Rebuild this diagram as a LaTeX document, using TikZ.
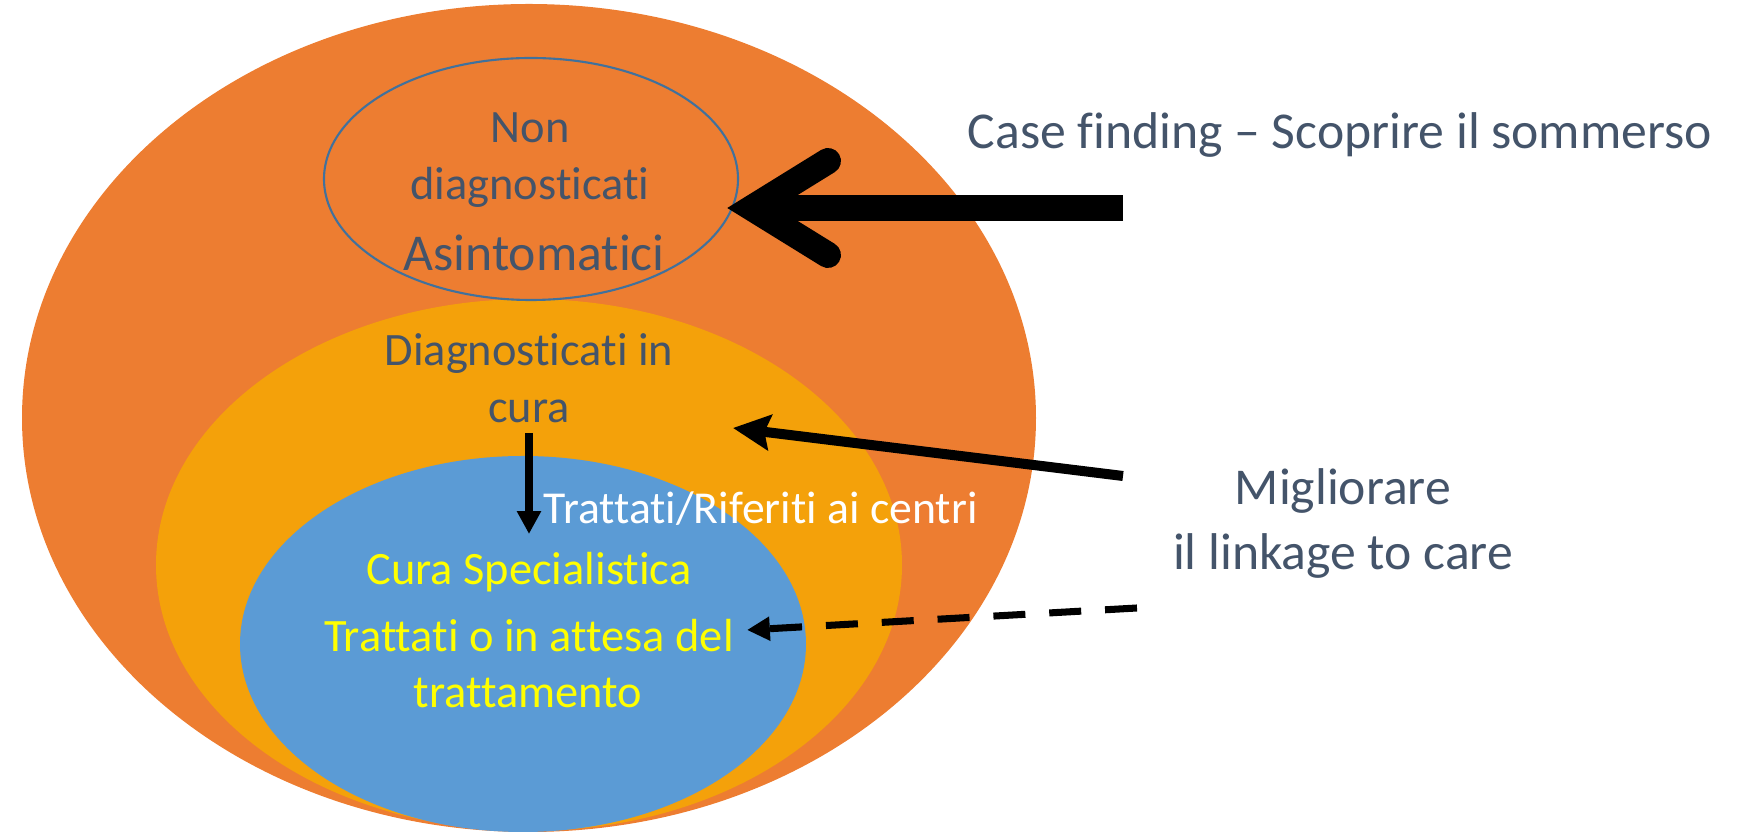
\documentclass[tikz,border=0pt]{standalone}
\usepackage{fontspec}
\setmainfont{Carlito}[Ligatures=NoCommon]
\usetikzlibrary{arrows.meta}
\definecolor{outerOrange}{RGB}{237,125,49}
\definecolor{goldFill}{RGB}{244,161,10}
\definecolor{blueFill}{RGB}{91,155,213}
\definecolor{rimBlue}{RGB}{65,113,156}
\definecolor{slateText}{RGB}{68,84,106}
\definecolor{labelYellow}{RGB}{255,255,0}
\tikzset{>=stealth}
\tikzset{
    txtSmall/.style={anchor=base, inner sep=0pt, font=\fontsize{13.2pt}{16pt}\selectfont},
    txtBig/.style={anchor=base, inner sep=0pt, font=\fontsize{14.7pt}{18pt}\selectfont},
}

\begin{document}
\begin{tikzpicture}[x=0.01cm, y=-0.01cm]
    \useasboundingbox (0,0) rectangle (1747,834);
    \fill [outerOrange] (529,418) ellipse [x radius=507, y radius=414];
    \fill [goldFill] (529,565) ellipse [x radius=373, y radius=266];
    \fill [blueFill] (523,644) ellipse [x radius=283, y radius=188];
    \draw [rimBlue, line width=0.6pt] (531,179) ellipse [x radius=207, y radius=121];

    \node (nonA) [txtSmall, slateText] at (530,143) {Non};
    \node (nonB) [txtSmall, slateText] at (530,200) {diagnosticati};
    \node (asint) [txtBig, slateText] at (534,271) {Asintomatici};
    \node (diagA) [txtSmall, slateText] at (529,366) {Diagnosticati in};
    \node (diagB) [txtSmall, slateText] at (529,423) {cura};
    \node (rifer) [txtSmall, white, anchor=base west, font=\fontsize{13pt}{16pt}\selectfont] at (543,524) {Trattati/Riferiti ai centri};
    \node (spec) [txtSmall, labelYellow] at (529,585) {Cura Specialistica};
    \node (attesaA) [txtSmall, labelYellow] at (529,652) {Trattati o in attesa del};
    \node (attesaB) [txtSmall, labelYellow] at (528,708) {trattamento};
    \node (caseF) [txtBig, slateText, anchor=base west] at (967,149) {Case finding – Scoprire il sommerso};
    \node (migA) [txtBig, slateText] at (1343,505) {Migliorare};
    \node (migB) [txtBig, slateText] at (1343,570) {il linkage to care};

    \coordinate (cfTail) at (1123,208);
    \coordinate (cfApex) at (752,208);
    \coordinate (cfUp) at (828,161);
    \coordinate (cfLo) at (828,255);
    \draw [line width=7.4pt] (cfTail) -- (cfApex);
    \draw [line width=7.4pt, line cap=round] (cfUp) -- (cfApex) -- (cfLo);

    \coordinate (lkTail) at (1123,476);
    \coordinate (lkTip) at (733,428);
    \draw [line width=2.85pt, -{Stealth[length=10.5pt, width=10pt, inset=1.5pt]}] (lkTail) -- (lkTip);

    \coordinate (dsTail) at (1137,608);
    \coordinate (dsTip) at (747,630);
    \draw [line width=2pt, dash pattern=on 9.1pt off 6.8pt, -{Triangle[length=6.5pt, width=6.5pt]}] (dsTail) -- (dsTip);

    \coordinate (vTop) at (529,433);
    \coordinate (vTip) at (529,534);
    \draw [line width=2pt, -{Triangle[length=6.5pt, width=6.5pt]}] (vTop) -- (vTip);
\end{tikzpicture}
\end{document}
